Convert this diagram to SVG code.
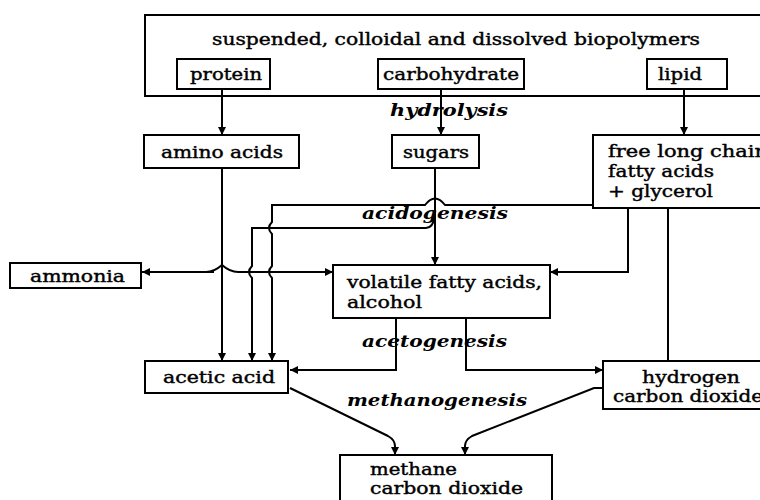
<svg xmlns="http://www.w3.org/2000/svg" width="760" height="500" viewBox="0 0 760 500">
<defs>
<marker id="ah" viewBox="0 0 10 10" refX="10" refY="5" markerWidth="8" markerHeight="8" markerUnits="userSpaceOnUse" orient="auto">
<path d="M0,0 L10,5 L0,10 Z" fill="#000"/>
</marker>
<style>
.box{fill:#fff;stroke:#000;stroke-width:2}
.t{font-family:"DejaVu Serif","Liberation Serif",serif;font-size:16px;fill:#000;stroke:#000;stroke-width:0.4}
.i{font-family:"DejaVu Serif","Liberation Serif",serif;font-size:16px;font-style:italic;font-weight:bold;fill:#000}
.c{fill:none;stroke:#000;stroke-width:2}
.a{fill:none;stroke:#000;stroke-width:2;marker-end:url(#ah)}
</style>
</defs>
<rect width="760" height="500" fill="#fff"/>

<g id="biopolymers">
<rect class="box" x="145" y="15" width="630" height="81"/>
<text class="t" x="212" y="45" textLength="488" lengthAdjust="spacingAndGlyphs">suspended, colloidal and dissolved biopolymers</text>
</g>
<g id="protein">
<rect class="box" x="177" y="59" width="93" height="30"/>
<text class="t" x="190" y="80" textLength="72" lengthAdjust="spacingAndGlyphs">protein</text>
</g>
<g id="carbohydrate">
<rect class="box" x="378" y="59" width="146" height="30"/>
<text class="t" x="383" y="80" textLength="136" lengthAdjust="spacingAndGlyphs">carbohydrate</text>
</g>
<g id="lipid">
<rect class="box" x="647" y="59" width="80" height="30"/>
<text class="t" x="658" y="80" textLength="44" lengthAdjust="spacingAndGlyphs">lipid</text>
</g>

<text class="i" x="390" y="116" textLength="118" lengthAdjust="spacingAndGlyphs">hydrolysis</text>

<g id="amino-acids">
<rect class="box" x="144" y="135" width="155" height="33"/>
<text class="t" x="161" y="158" textLength="122" lengthAdjust="spacingAndGlyphs">amino acids</text>
</g>
<g id="sugars">
<rect class="box" x="392" y="135" width="87" height="33"/>
<text class="t" x="403" y="158" textLength="66" lengthAdjust="spacingAndGlyphs">sugars</text>
</g>
<g id="lcfa">
<rect class="box" x="593" y="135" width="180" height="73"/>
<text class="t" x="608" y="157" textLength="160" lengthAdjust="spacingAndGlyphs">free long chain</text>
<text class="t" x="608" y="177" textLength="106" lengthAdjust="spacingAndGlyphs">fatty acids</text>
<text class="t" x="608" y="197" textLength="105" lengthAdjust="spacingAndGlyphs">+ glycerol</text>
</g>

<text class="i" x="362" y="219" textLength="146" lengthAdjust="spacingAndGlyphs">acidogenesis</text>

<g id="ammonia">
<rect class="box" x="10" y="263" width="131" height="25"/>
<text class="t" x="30" y="282" textLength="95" lengthAdjust="spacingAndGlyphs">ammonia</text>
</g>
<g id="vfa">
<rect class="box" x="333" y="265" width="217" height="53"/>
<text class="t" x="347" y="288" textLength="195" lengthAdjust="spacingAndGlyphs">volatile fatty acids,</text>
<text class="t" x="347" y="308" textLength="75" lengthAdjust="spacingAndGlyphs">alcohol</text>
</g>

<text class="i" x="362" y="347" textLength="145" lengthAdjust="spacingAndGlyphs">acetogenesis</text>

<g id="acetic-acid">
<rect class="box" x="145" y="361" width="143" height="32"/>
<text class="t" x="163" y="383" textLength="112" lengthAdjust="spacingAndGlyphs">acetic acid</text>
</g>
<g id="hydrogen">
<rect class="box" x="603" y="361" width="170" height="48"/>
<text class="t" x="642" y="383" textLength="98" lengthAdjust="spacingAndGlyphs">hydrogen</text>
<text class="t" x="613" y="402" textLength="150" lengthAdjust="spacingAndGlyphs">carbon dioxide</text>
</g>

<text class="i" x="347" y="406" textLength="180" lengthAdjust="spacingAndGlyphs">methanogenesis</text>

<g id="methane">
<rect class="box" x="340" y="455" width="212" height="60"/>
<text class="t" x="370" y="475" textLength="87" lengthAdjust="spacingAndGlyphs">methane</text>
<text class="t" x="370" y="494" textLength="153" lengthAdjust="spacingAndGlyphs">carbon dioxide</text>
</g>

<g id="connectors">
<path class="a" d="M222 89 V135"/>
<path class="a" d="M441 89 V135"/>
<path class="a" d="M684 89 V135"/>
<path class="a" d="M222 168 V361"/>
<path class="a" d="M214 272 H142"/>
<path class="a" d="M206 272 Q214 272 222 265 Q230 272 238 272 H333"/>
<path class="a" d="M435 168 V265"/>
<path class="a" d="M435 216 Q433 228 426 228 H252 V266 Q246 272 252 278 V361"/>
<path class="a" d="M593 205 H445 Q435 192 425 205 H272 V222 Q266 228 272 234 V266 Q266 272 272 278 V361"/>
<path class="a" d="M628 208 V272 H550"/>
<path class="c" d="M668 208 V361"/>
<path class="a" d="M396 318 V370 H290"/>
<path class="a" d="M466 318 V370 H603"/>
<path class="a" d="M290 388 L388 436 Q395 440 395 446 V455"/>
<path class="a" d="M603 388 H594 L472 436 Q465 440 465 446 V455"/>
</g>
</svg>
